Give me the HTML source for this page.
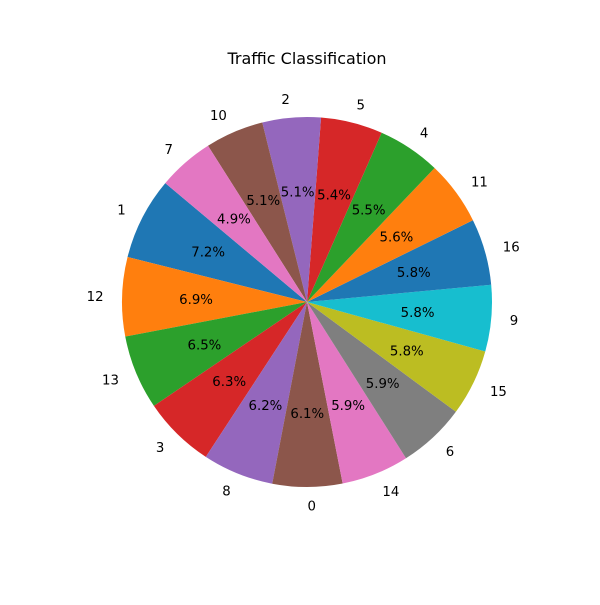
<!DOCTYPE html>
<html><head><meta charset="utf-8"><style>
body{margin:0;background:#fff}
svg text{font-family:"DejaVu Sans","Liberation Sans",sans-serif}
</style></head><body>
<svg id="chart" width="600" height="600" viewBox="0 0 600 600">
<rect width="600" height="600" fill="#fff"/>
<text x="307" y="64" text-anchor="middle" font-size="16" fill="#000">Traffic Classification</text>
<g id="slices"></g>
</svg>
<script>
const labels = ["1","12","13","3","8","0","14","6","15","9","16","11","4","5","2","10","7"];
const values = [7.2,6.9,6.5,6.3,6.2,6.1,5.9,5.9,5.8,5.8,5.8,5.6,5.5,5.4,5.1,5.1,4.9];
const palette = ["#1f77b4","#ff7f0e","#2ca02c","#d62728","#9467bd","#8c564b","#e377c2","#7f7f7f","#bcbd22","#17becf"];
const cx = 307, cy = 302, r = 185, startAngle = 140;
const g = document.getElementById('slices');
const NS = "http://www.w3.org/2000/svg";
const total = values.reduce((a,b)=>a+b,0);
function pt(deg, rad){const a=deg*Math.PI/180;return [cx+rad*Math.cos(a), cy-rad*Math.sin(a)];}
let ang = startAngle;
values.forEach((v,i)=>{
  const sweep = v/total*360;
  const a0 = ang, a1 = ang+sweep, mid = ang+sweep/2;
  const p0 = pt(a0,r), p1 = pt(a1,r);
  const path = document.createElementNS(NS,'path');
  path.setAttribute('d',`M${cx},${cy} L${p0[0]},${p0[1]} A${r},${r} 0 ${sweep>180?1:0} 0 ${p1[0]},${p1[1]} Z`);
  path.setAttribute('fill',palette[i%palette.length]);
  
  
  g.appendChild(path);
  const lp = pt(mid, r*1.1);
  const t = document.createElementNS(NS,'text');
  const c = Math.cos(mid*Math.PI/180);
  t.setAttribute('x',lp[0]); t.setAttribute('y',lp[1]+5);
  t.setAttribute('text-anchor', c>0?'start':'end');
  t.setAttribute('font-size','13.3');
  t.textContent = labels[i];
  
  
  g.appendChild(t);
  const pp = pt(mid, r*0.6);
  const t2 = document.createElementNS(NS,'text');
  t2.setAttribute('x',pp[0]); t2.setAttribute('y',pp[1]+5);
  t2.setAttribute('text-anchor','middle');
  t2.setAttribute('font-size','13.3');
  t2.textContent = v.toFixed(1)+'%';
  
  
  g.appendChild(t2);
  ang = a1;
});
</script>
</body></html>
